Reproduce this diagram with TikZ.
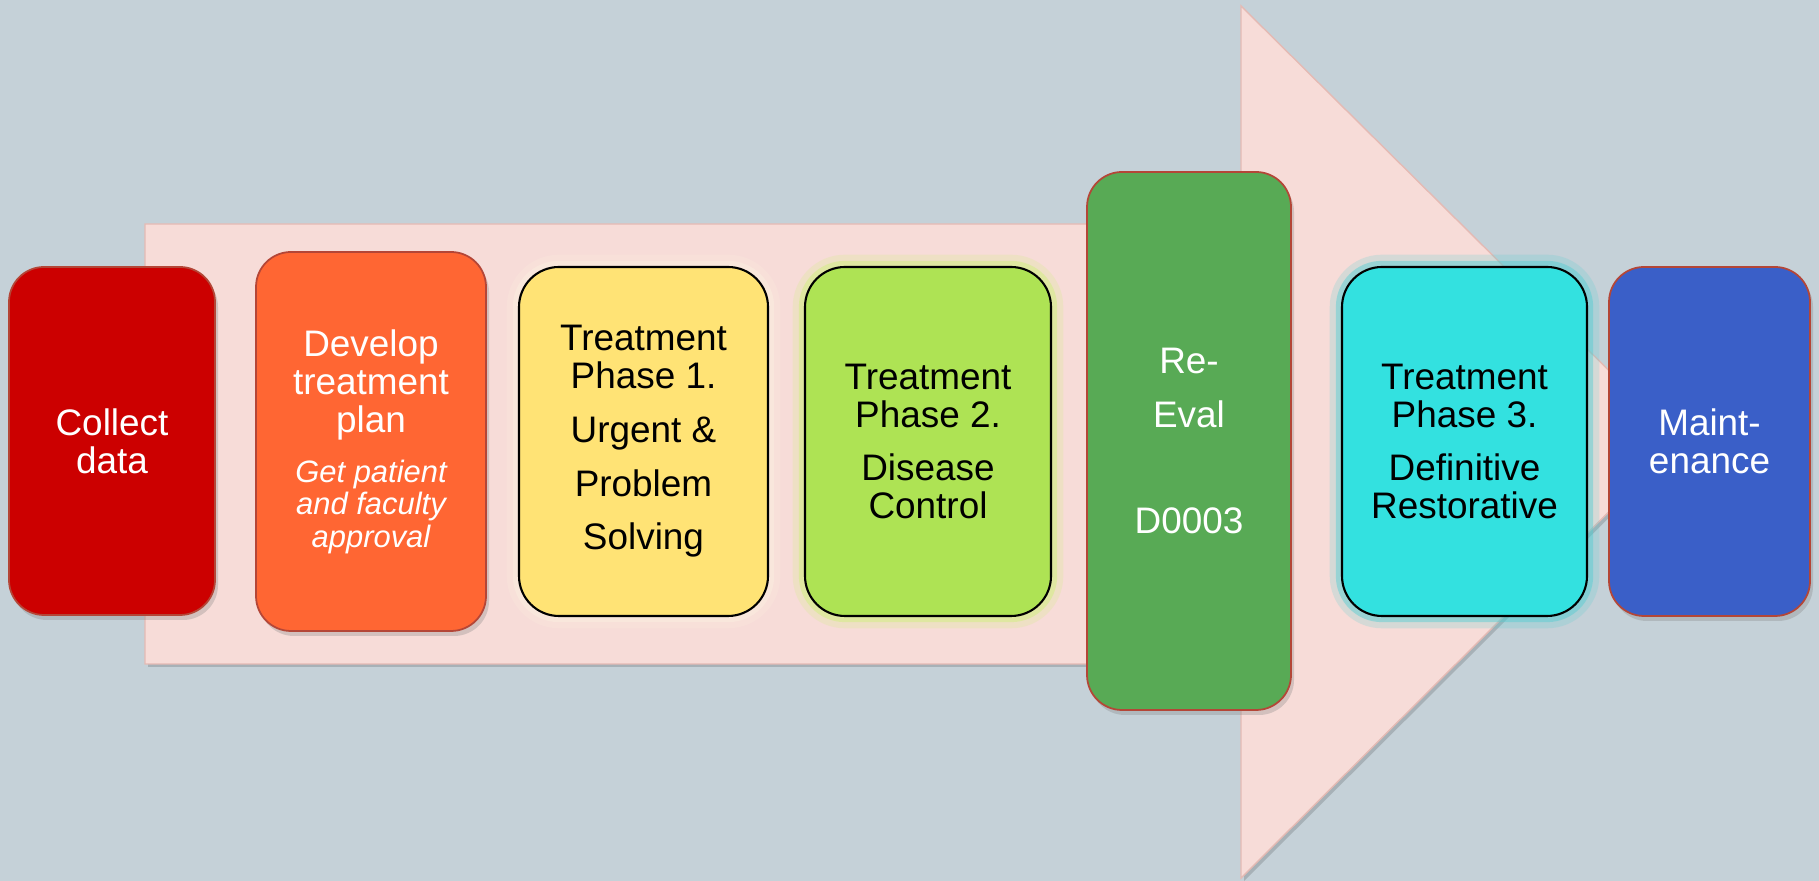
\documentclass[tikz,border=0pt]{standalone}
\usepackage{fontspec}
\setmainfont{Liberation Sans}
\usetikzlibrary{shadows}
\definecolor{bgcol}{RGB}{197,209,216}
\definecolor{arrowcol}{RGB}{247,220,216}
\definecolor{arrowline}{RGB}{228,186,180}
\definecolor{collectcol}{RGB}{204,0,0}
\definecolor{developcol}{RGB}{255,102,51}
\definecolor{onecol}{RGB}{255,227,117}
\definecolor{oneglow}{RGB}{252,240,225}
\definecolor{twocol}{RGB}{174,227,84}
\definecolor{twoglow}{RGB}{205,240,120}
\definecolor{evalcol}{RGB}{88,170,85}
\definecolor{threecol}{RGB}{51,225,224}
\definecolor{threeglow}{RGB}{80,205,210}
\definecolor{maintcol}{RGB}{58,95,200}
\definecolor{redline}{RGB}{180,70,55}
\newcommand{\note}{\fontsize{8.8}{9.1}\selectfont\itshape}
\tikzset{%
    stage/.style={inner sep=0pt,rounded corners=0.35cm,align=center,
        font=\fontsize{10.5}{10.8}\selectfont,line width=0.5pt},
    lit/.style={stage,draw=redline,text=white,
        drop shadow={shadow xshift=0.03,shadow yshift=-0.05,opacity=.3}},
    dark/.style={stage,draw=black,line width=0.6pt,text=black,rounded corners=0.4cm},
    glow/.style={preaction={draw=#1,line width=7pt,opacity=.2},
        preaction={draw=#1,line width=3.5pt,opacity=.45}},
    size/.style 2 args={minimum width=#1cm,minimum height=#2cm}
}
\begin{document}
\begin{tikzpicture}
    \useasboundingbox (0,0) rectangle (18.19,8.81);
    \fill[bgcol] (0,0) rectangle (18.19,8.81);

    \fill[black,opacity=.15] (1.48,6.54) -- (12.44,6.54) -- (12.44,8.72) -- (16.83,4.37)
        -- (12.44,0) -- (12.44,2.14) -- (1.48,2.14) -- cycle;
    \filldraw[fill=arrowcol,draw=arrowline] (1.45,6.57) -- (12.41,6.57) -- (12.41,8.75)
        -- (16.80,4.40) -- (12.41,0.03) -- (12.41,2.17) -- (1.45,2.17) -- cycle;

    \node[lit,fill=collectcol,size={2.06}{3.48}] (collect) at (1.12,4.40)
        {Collect\\data};
    \node[lit,fill=developcol,size={2.30}{3.79}] (develop) at (3.71,4.395)
        {Develop\\treatment\\plan\\[3.5pt]\note Get patient\\[-1.6pt]\note and faculty\\[-1.6pt]\note approval};
    \node[dark,glow=oneglow,fill=onecol,size={2.49}{3.49}] (phaseone) at (6.435,4.395)
        {Treatment\\Phase 1.\\[4.5pt]Urgent \&\\[4.5pt]Problem\\[4.5pt]Solving};
    \node[dark,glow=twoglow,fill=twocol,size={2.46}{3.49}] (phasetwo) at (9.28,4.395)
        {Treatment\\Phase 2.\\[4.5pt]Disease\\Control};
    \node[lit,fill=evalcol,size={2.04}{5.38}] (reeval) at (11.89,4.40)
        {Re-\\[4.5pt]Eval\\[19.5pt]D0003};
    \node[dark,glow=threeglow,fill=threecol,size={2.45}{3.49}] (phasethree) at (14.645,4.395)
        {Treatment\\Phase 3.\\[4.5pt]Definitive\\Restorative};
    \node[lit,fill=maintcol,size={2.01}{3.49}] (maint) at (17.095,4.395)
        {Maint-\\enance};
\end{tikzpicture}
\end{document}
